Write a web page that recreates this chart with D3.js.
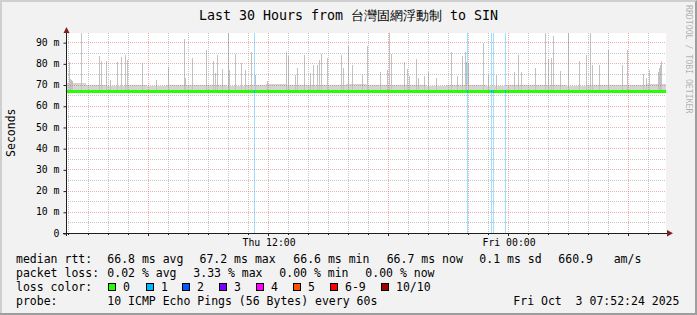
<!DOCTYPE html>
<html>
<head>
<meta charset="utf-8">
<script src="https://cdn.jsdelivr.net/npm/d3@7"></script>
<style>
body { margin: 0; background: #f2f2f2; }
text { font-family: "DejaVu Sans Mono", monospace; white-space: pre; }
</style>
</head>
<body>
<svg id="chart" width="697" height="315"></svg>
<script>
// data
var endTime = new Date(2025, 9, 3, 7, 52, 24);
var spanHours = 30;
var yTicks = [0, 0.01, 0.02, 0.03, 0.04, 0.05, 0.06, 0.07, 0.08, 0.09];
var xLabelTicks = [new Date(2025, 9, 2, 12, 0), new Date(2025, 9, 3, 0, 0)];

// smoke spikes: minutes after start, highest ping (ms)
var spikeMinutes = [9, 12, 15, 18, 47, 100, 105, 121, 132, 154, 167, 177, 185, 229, 272, 307, 354, 358, 379,
  420, 442, 449, 454, 470, 487, 490, 509, 527, 537, 555, 570, 603, 660, 668, 688, 695, 715, 733, 741, 753,
  760, 766, 783, 826, 833, 848, 858, 888, 903, 943, 963, 970, 976, 1015, 1023, 1031, 1053, 1058, 1075, 1088,
  1113, 1155, 1173, 1190, 1197, 1200, 1206, 1252, 1267, 1291, 1344, 1357, 1366, 1409, 1439, 1447, 1456, 1462,
  1482, 1507, 1539, 1561, 1574, 1579, 1601, 1626, 1670, 1684, 1731, 1742, 1749, 1776, 1779, 1782, 1787];
var spikeMs = [80.5, 72.5, 72, 71.5, 94.3, 83.6, 81, 81, 72.3, 80.5, 83, 83.8, 81.8, 80.2, 72.3, 78.3, 91.5, 73, 82.5,
  86.5, 81, 75.5, 83.8, 77.5, 94.3, 77, 84.6, 80.2, 77, 85.4, 74.6, 71.5, 85.2, 83.3, 74.6, 77.8, 84, 75.5, 79.4, 79,
  81.8, 84.4, 82.5, 84, 77.8, 88.4, 79.4, 74.6, 88.4, 75.8, 77, 94.3, 84.6, 80.5, 77.3, 74.2, 82, 73, 74.2, 75.8,
  73, 85.4, 74, 83.3, 85.2, 80.5, 80.2, 89.6, 74.6, 74.6, 75.8, 84, 75.8, 77.8, 94.3, 82, 82.5, 93,
  76.3, 94.3, 81, 84, 94.3, 79.4, 79.4, 86.5, 79.4, 86.5, 75, 73, 77, 76, 78, 79.4, 81];

// lower smoke band, top per hour (ms)
var bandMs = [70.8, 69.8, 69.5, 70, 69.5, 69.8, 69.6, 70, 69.5, 69.8, 70.2, 69.8, 69.6, 70, 70.2,
  69.6, 69.8, 70, 69.5, 70, 69.8, 69.5, 69.6, 70, 69.8, 69.5, 69.8, 70, 69.6, 70.2];
// median rtt per 3 hours (ms)
var medianMs = [66.8, 66.8, 66.8, 66.7, 66.7, 66.6, 66.7, 66.9, 66.9, 66.8];
// minutes after start with 1 of 30 pings lost
var lossMinutes = [564, 1203, 1278, 1281, 1317];

var title = "Last 30 Hours from 台灣固網浮動制 to SIN";
var rttLegend = ["median rtt:", "66.8 ms avg", "67.2 ms max", "66.6 ms min", "66.7 ms now", "0.1 ms sd", "660.9   am/s"];
var lossLegend = ["packet loss:", "0.02 % avg", "3.33 % max", "0.00 % min", "0.00 % now"];
var lossLabels = ["0", "1", "2", "3", "4", "5", "6-9", "10/10"];
var lossColors = ["#26ff00", "#00b8ff", "#0059ff", "#7e00ff", "#ff00ff", "#ff5500", "#ff0000", "#a10000"];
var probeLegend = ["probe:", "10 ICMP Echo Pings (56 Bytes) every 60s", "Fri Oct  3 07:52:24 2025"];

var startTime = new Date(endTime.getTime() - spanHours * 3600e3);
function minutesAfter(m) { return new Date(startTime.getTime() + m * 60e3); }

var svg = d3.select("#chart");
var pL = 66, pR = 666, pT = 33, pB = 233;

var x = d3.scaleTime().domain([startTime, endTime]).range([pL, pR]);
var y = d3.scaleLinear().domain([0, 0.0943]).range([pB, pT]);

// frame
svg.append("rect").attr("width", 697).attr("height", 315).attr("fill", "#f2f2f2");
svg.append("path").attr("d", "M0,0H697V2H2V315H0Z").attr("fill", "#cfcfcf");
svg.append("path").attr("d", "M697,0V315H0V313H695V2Z").attr("fill", "#9e9e9e");
svg.append("rect").attr("x", pL).attr("y", pT).attr("width", pR - pL).attr("height", pB - pT).attr("fill", "#fff");

var plot = svg.append("g").attr("shape-rendering", "crispEdges");

// loss background bars
plot.selectAll(".lossbg").data(lossMinutes).enter().append("rect")
  .attr("x", function(d) { return Math.floor(x(minutesAfter(d))); })
  .attr("y", pT).attr("width", 1).attr("height", pB - pT)
  .attr("fill", "#9edfff");

// smoke band
plot.selectAll(".band").data(bandMs).enter().append("rect")
  .attr("x", function(d, i) { return x(d3.timeHour.offset(startTime, i)); })
  .attr("width", function(d, i) { return x(d3.timeHour.offset(startTime, i + 1)) - x(d3.timeHour.offset(startTime, i)); })
  .attr("y", function(d) { return y(d / 1000); })
  .attr("height", function(d) { return y(0.0665) - y(d / 1000); })
  .attr("fill", "#d4d4d4");

// smoke spikes
plot.selectAll(".spike").data(spikeMs).enter().append("rect")
  .attr("x", function(d, i) { return Math.floor(x(minutesAfter(spikeMinutes[i]))); })
  .attr("width", 1)
  .attr("y", function(d) { return y(d / 1000); })
  .attr("height", function(d) { return y(0.0665) - y(d / 1000); })
  .attr("fill", "#c2c2c2");

// median line
var medPts = medianMs.map(function(d, i) { return [d3.timeHour.offset(startTime, i * 3), d]; });
medPts.push([endTime, medianMs[medianMs.length - 1]]);
var line = d3.line().curve(d3.curveStepAfter)
  .x(function(d) { return x(d[0]); })
  .y(function(d) { return y(d[1] / 1000); });
plot.append("path").datum(medPts).attr("d", line)
  .attr("fill", "none").attr("stroke", lossColors[0]).attr("stroke-width", 3);
plot.selectAll(".lossmed").data(lossMinutes).enter().append("rect")
  .attr("x", function(d) { return Math.floor(x(minutesAfter(d))); })
  .attr("y", y(0.0668) - 1.5).attr("width", 1).attr("height", 3)
  .attr("fill", lossColors[1]);

// grid
var gridMinor = "rgba(143,143,143,0.5)", gridMajor = "rgba(222,79,79,0.45)";
var grid = svg.append("g");
var hours = d3.timeHour.range(d3.timeHour.ceil(startTime), endTime);
grid.selectAll(".vg").data(hours).enter().append("line")
  .attr("x1", function(d) { return Math.floor(x(d)) + 0.5; })
  .attr("x2", function(d) { return Math.floor(x(d)) + 0.5; })
  .attr("y1", pT).attr("y2", pB)
  .attr("stroke", function(d) { return d.getHours() % 6 === 0 ? gridMajor : gridMinor; })
  .attr("stroke-dasharray", "1,1");
var yGrid = d3.range(1, 19).map(function(i) { return i * 0.005; });
grid.selectAll(".hg").data(yGrid).enter().append("line")
  .attr("x1", pL).attr("x2", pR)
  .attr("y1", function(d) { return Math.round(y(d)) + 0.5; })
  .attr("y2", function(d) { return Math.round(y(d)) + 0.5; })
  .attr("stroke", function(d, i) { return i % 2 === 1 ? gridMajor : gridMinor; })
  .attr("stroke-dasharray", "1,1");

// axes
var axisColor = "#1f1f1f";
var yAxis = d3.axisLeft(y).tickValues(yTicks).tickSize(3).tickPadding(4)
  .tickFormat(function(d) { return d === 0 ? "0" : Math.round(d * 1000) + " m"; });
var gy = svg.append("g").attr("transform", "translate(" + (pL + 0.5) + ",0.5)").call(yAxis);
gy.select(".domain").remove();
gy.selectAll("line").attr("stroke", axisColor);
gy.selectAll("text").attr("font-family", "DejaVu Sans Mono").attr("font-size", "9.8px").attr("fill", "#000").attr("dy", "0.26em");

var xAxis = d3.axisBottom(x).tickValues(xLabelTicks).tickSize(0).tickPadding(6)
  .tickFormat(d3.timeFormat("%a %H:%M"));
var gx = svg.append("g").attr("transform", "translate(0," + pB + ")").call(xAxis);
gx.select(".domain").remove();
gx.selectAll("text").attr("font-family", "DejaVu Sans Mono").attr("font-size", "9.8px").attr("fill", "#000");

var hourTicks = svg.append("g");
hourTicks.selectAll("line").data(hours).enter().append("line")
  .attr("x1", function(d) { return Math.floor(x(d)) + 0.5; })
  .attr("x2", function(d) { return Math.floor(x(d)) + 0.5; })
  .attr("y1", pB).attr("y2", function(d) { return d.getHours() % 6 === 0 ? pB + 3 : pB + 2; })
  .attr("stroke", axisColor);

svg.append("line").attr("x1", pL - 3).attr("x2", pR + 1).attr("y1", pB + 0.5).attr("y2", pB + 0.5).attr("stroke", axisColor);
svg.append("line").attr("x1", pL + 0.5).attr("x2", pL + 0.5).attr("y1", pB + 3).attr("y2", pT - 2).attr("stroke", axisColor);
svg.append("path").attr("d", "M63.5,33L69.5,33L66.5,27Z").attr("fill", "#801f1f");
svg.append("path").attr("d", "M667,230L667,236.5L673,233.25Z").attr("fill", "#801f1f");

// texts
svg.append("text").attr("x", 348.5).attr("y", 19.5).attr("text-anchor", "middle")
  .attr("font-size", "13.3px").attr("fill", "#000").text(title);
svg.append("text").attr("transform", "translate(15,132.7) rotate(-90)").attr("text-anchor", "middle")
  .attr("font-size", "11.5px").attr("fill", "#000").text("Seconds");
svg.append("text").attr("transform", "translate(685.5,5) rotate(90)")
  .attr("font-size", "8.2px").attr("fill", "rgba(0,0,0,0.3)").text("RRDTOOL / TOBI OETIKER");

var legend = svg.append("g").attr("font-size", "11.5px").attr("fill", "#000");
var rttX = [16, 107.3, 199.5, 293.3, 386.7, 479.3, 558.3];
legend.selectAll(".rtt").data(rttLegend).enter().append("text")
  .attr("x", function(d, i) { return rttX[i]; }).attr("y", 263.3).text(function(d) { return d; });
var lossX = [16, 107.3, 193.3, 279.3, 365.3];
legend.selectAll(".loss").data(lossLegend).enter().append("text")
  .attr("x", function(d, i) { return lossX[i]; }).attr("y", 277.3).text(function(d) { return d; });
legend.append("text").attr("x", 16).attr("y", 291).text("loss color:");
var swX = [108.3, 145.7, 182.3, 219, 255.7, 293.3, 330, 381];
legend.selectAll(".sw").data(lossColors).enter().append("rect")
  .attr("x", function(d, i) { return Math.round(swX[i]) + 0.5; }).attr("y", 283.5)
  .attr("width", 7).attr("height", 7)
  .attr("fill", function(d) { return d; }).attr("stroke", "#000");
legend.selectAll(".swl").data(lossLabels).enter().append("text")
  .attr("x", function(d, i) { return Math.round(swX[i]) + 15; }).attr("y", 291).text(function(d) { return d; });
var probeX = [16, 107.3, 513.3];
legend.selectAll(".probe").data(probeLegend).enter().append("text")
  .attr("x", function(d, i) { return probeX[i]; }).attr("y", 305).text(function(d) { return d; });
</script>
</body>
</html>
